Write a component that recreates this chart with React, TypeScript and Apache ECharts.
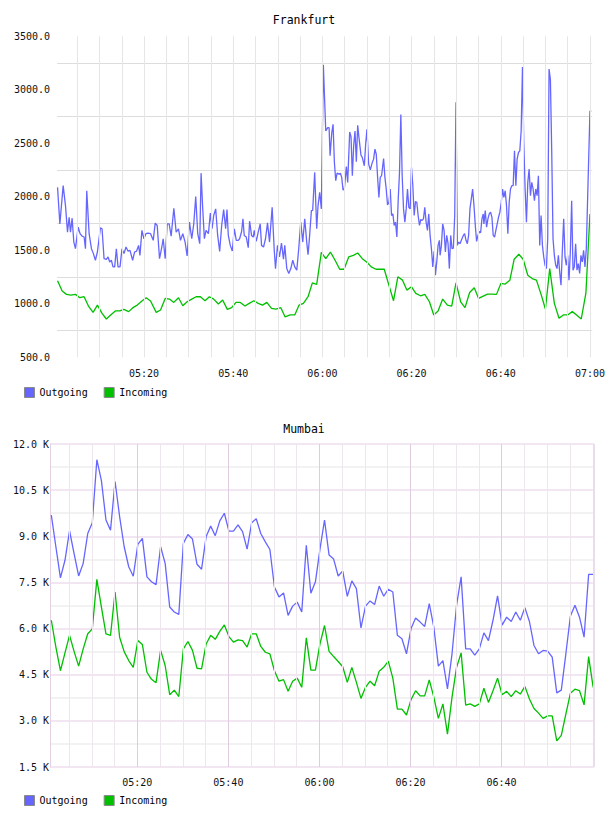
import React, { useEffect, useRef } from "react";
import * as echarts from "echarts";

// x values are minutes after 05:00
const frankfurtOutgoing: [number, number][] = [
  [0.6, 2088], [1.12, 1747], [1.86, 2104], [2.38, 1918], [2.83, 1670], [3.2, 1809], [3.5, 1670], [3.87, 1800],
  [4.25, 1577], [4.62, 1515], [5.22, 1716], [5.66, 1655], [6.11, 1633], [6.56, 1624], [6.86, 1515], [7.15, 2057],
  [7.68, 1655], [8.2, 1515], [8.64, 1469], [9.09, 1407], [9.54, 1484], [10.21, 1710], [10.58, 1701], [11.03, 1422],
  [11.55, 1416], [11.92, 1438], [12.3, 1391], [12.67, 1407], [13.04, 1345], [13.41, 1345], [13.79, 1515], [14.16, 1345],
  [14.61, 1345], [15.05, 1515], [15.5, 1469], [15.95, 1531], [16.39, 1493], [16.84, 1500], [17.44, 1407], [17.88, 1484],
  [18.33, 1493], [18.78, 1546], [19.08, 1453], [19.52, 1686], [19.97, 1608], [20.42, 1655], [20.86, 1661], [21.46, 1655],
  [22.06, 1593], [22.5, 1754], [22.95, 1732], [23.47, 1422], [23.99, 1531], [24.29, 1608], [24.74, 1422], [25.19, 1747],
  [25.63, 1747], [26.08, 1633], [26.68, 1893], [27.2, 1670], [27.72, 1701], [28.17, 1593], [28.69, 1655], [29.21, 1577],
  [29.66, 1447], [30.18, 1763], [30.7, 1608], [31.15, 1747], [31.59, 2002], [32.04, 1655], [32.49, 1562], [32.79, 2221],
  [33.16, 1887], [33.53, 1608], [33.9, 1686], [34.43, 1655], [34.87, 1847], [35.25, 1701], [35.62, 1825], [36.07, 1887],
  [36.51, 1639], [36.96, 1490], [37.41, 1732], [37.85, 1881], [38.3, 1701], [38.6, 1881], [38.9, 1639], [39.34, 1546],
  [39.79, 1493], [40.24, 1701], [40.69, 1593], [41.13, 1593], [41.43, 1608], [41.88, 1676], [42.18, 1794], [42.47, 1639],
  [42.92, 1624], [43.37, 1524], [43.67, 1772], [44.11, 1639], [44.49, 1624], [44.71, 1686], [45.16, 1583], [45.6, 1670],
  [46.05, 1747], [46.35, 1546], [46.8, 1531], [47.24, 1608], [47.69, 1757], [48.14, 1577], [48.73, 1902], [49.18, 1515],
  [49.48, 1329], [49.93, 1546], [50.37, 1438], [50.82, 1568], [51.27, 1416], [51.56, 1546], [52.01, 1329], [52.46, 1283],
  [52.91, 1329], [53.35, 1407], [53.8, 1345], [54.25, 1314], [54.69, 1515], [55.14, 1763], [55.59, 1577], [56.04, 1794],
  [56.48, 1577], [56.78, 1459], [57.08, 1608], [57.53, 1871], [57.82, 1874], [58.27, 2228], [58.72, 1701], [59.02, 1918],
  [59.39, 2042], [59.76, 1887], [60.21, 3235], [60.75, 2615], [61.2, 2646], [61.5, 2646], [61.72, 2383], [62.1, 2600],
  [62.39, 2677], [62.69, 2321], [62.99, 2150], [63.29, 2221], [63.73, 2212], [64.03, 2221], [64.33, 2181], [64.63, 2063],
  [64.93, 2079], [65.37, 2283], [65.67, 2135], [66.12, 2606], [66.42, 2562], [66.71, 2197], [67.01, 2476], [67.31, 2615],
  [67.61, 2327], [67.91, 2668], [68.2, 2553], [68.65, 2389], [68.95, 2367], [69.4, 2290], [69.7, 2491], [69.99, 2630],
  [70.37, 2305], [70.74, 2252], [71.19, 2321], [71.48, 2352], [71.78, 2445], [72.08, 2398], [72.38, 2181], [72.67, 1995],
  [72.97, 2181], [73.27, 2197], [73.72, 2358], [74.02, 2181], [74.31, 2073], [74.61, 1924], [74.91, 1949], [75.21, 2073],
  [75.51, 1825], [75.8, 1840], [76.1, 1732], [76.4, 1763], [76.7, 1624], [76.99, 1964], [77.29, 2228], [77.59, 2770],
  [77.89, 2197], [78.19, 1887], [78.49, 1763], [78.79, 1887], [79.08, 2073], [79.38, 1902], [79.68, 1887], [79.98, 2274],
  [80.28, 2104], [80.58, 1825], [80.87, 1955], [81.17, 1949], [81.47, 1825], [81.77, 1732], [82.07, 1788], [82.36, 1779],
  [82.66, 1794], [82.96, 1902], [83.26, 1763], [83.56, 1686], [83.85, 1840], [84.15, 1639], [84.45, 1515], [84.75, 1345],
  [85.05, 1490], [85.34, 1267], [85.64, 1391], [85.94, 1546], [86.24, 1593], [86.39, 1453], [86.69, 1546], [86.98, 1747],
  [87.28, 1686], [87.58, 1484], [87.88, 1639], [88.18, 1562], [88.47, 1329], [88.77, 1639], [89.07, 1515], [89.37, 1521],
  [89.67, 1825], [89.96, 2884], [90.26, 1546], [90.56, 1577], [90.86, 1562], [91.16, 1593], [91.6, 1639], [91.9, 1655],
  [92.2, 1593], [92.5, 1562], [92.79, 1639], [93.09, 1887], [93.39, 1980], [93.69, 2073], [93.99, 1918], [94.29, 1732],
  [94.58, 1583], [94.88, 1639], [95.18, 1676], [95.48, 1664], [95.78, 1794], [96.07, 1840], [96.22, 1747], [96.52, 1871],
  [96.82, 1717], [97.12, 1794], [97.41, 1840], [97.71, 1856], [98.01, 1810], [98.31, 1639], [98.61, 1624], [98.9, 1686],
  [99.2, 1747], [99.5, 1810], [99.8, 1856], [100.1, 1943], [100.4, 2073], [100.69, 1995], [100.99, 2057], [101.29, 1918],
  [101.59, 1655], [101.89, 1949], [102.18, 2073], [102.48, 2104], [102.78, 2104], [103.08, 2429], [103.38, 2104], [103.67, 2352],
  [103.97, 2414], [104.27, 2429], [104.57, 2615], [104.87, 3213], [105.16, 2507], [105.46, 2073], [105.76, 1763], [106.06, 2135],
  [106.36, 2259], [106.66, 2011], [106.95, 2135], [107.25, 2073], [107.55, 1964], [107.85, 2073], [108.15, 2011], [108.44, 2197],
  [108.74, 1546], [109.04, 1825], [109.34, 1546], [109.64, 1438], [109.93, 1360], [110.23, 1329], [110.53, 1608], [110.83, 3194],
  [111.13, 3095], [111.42, 2445], [111.72, 1608], [112.02, 1453], [112.32, 1360], [112.62, 1329], [112.92, 1453], [113.21, 1298],
  [113.51, 1174], [113.81, 1500], [114.11, 1794], [114.41, 1438], [114.7, 1360], [115.0, 1453], [115.3, 1221], [115.6, 1484],
  [115.9, 1964], [116.2, 1314], [116.49, 1345], [116.79, 1562], [117.09, 1314], [117.39, 1376], [117.69, 1283], [117.98, 1453],
  [118.28, 1391], [118.58, 1500], [118.88, 1345], [119.18, 1515], [120.0, 2801], [120.3, 2801],
];

const frankfurtIncoming: [number, number][] = [
  [0.6, 1215], [1.64, 1119], [2.61, 1088], [3.58, 1081], [4.62, 1088], [5.59, 1057], [6.56, 1066], [7.53, 979],
  [8.57, 920], [9.54, 988], [10.58, 911], [11.55, 858], [12.52, 896], [13.56, 933], [14.53, 933], [15.5, 948],
  [16.54, 927], [17.51, 964], [18.48, 988], [19.52, 1026], [20.49, 1057], [21.46, 1026], [22.73, 920], [23.7, 942],
  [24.74, 1050], [25.71, 1044], [26.68, 1013], [27.72, 1057], [28.69, 982], [29.66, 1019], [30.7, 1044], [31.67, 1066],
  [32.64, 1066], [33.68, 1029], [34.65, 1066], [35.62, 1044], [36.66, 998], [37.63, 1035], [38.67, 948], [39.64, 964],
  [40.61, 1013], [41.58, 1013], [42.62, 979], [43.59, 1004], [44.63, 1029], [45.6, 1004], [46.57, 988], [47.54, 1013],
  [48.58, 958], [49.55, 951], [50.67, 964], [51.64, 877], [52.76, 896], [53.8, 896], [54.77, 988], [55.74, 1004],
  [56.78, 1066], [57.75, 1196], [58.72, 1181], [59.76, 1480], [60.75, 1422], [61.8, 1484], [62.84, 1407], [63.88, 1323],
  [64.85, 1323], [65.89, 1438], [66.94, 1453], [67.91, 1475], [68.95, 1422], [69.92, 1391], [70.96, 1345], [72.0, 1323],
  [72.97, 1323], [73.87, 1323], [74.91, 1174], [75.95, 1029], [76.92, 1252], [77.97, 1221], [78.93, 1128], [79.98, 1159],
  [80.95, 1097], [81.99, 1075], [82.96, 1088], [84.0, 1019], [84.97, 895], [85.94, 933], [86.98, 1044], [88.03, 988],
  [89.0, 979], [89.96, 1196], [91.01, 1019], [91.98, 964], [93.02, 1106], [94.06, 1150], [95.03, 1050], [96.07, 1072],
  [97.04, 1091], [98.01, 1091], [99.05, 1088], [100.02, 1190], [100.99, 1184], [102.04, 1221], [103.0, 1416], [104.05, 1463],
  [105.02, 1416], [106.06, 1267], [107.03, 1236], [108.0, 1221], [109.04, 1088], [110.01, 951], [110.98, 1329], [112.02, 1004],
  [113.06, 865], [114.03, 896], [115.0, 896], [116.04, 927], [117.01, 896], [118.05, 858], [119.1, 1103], [120.0, 1840],
];

// Mumbai: one sample per minute, first sample at 05:01:07
const mumbaiFirstMinute = 1.12;
const mumbaiOutgoingK = [
  9.69, 8.66, 7.65, 8.22, 9.18, 8.44, 7.71, 8.12, 9.09, 9.44,
  11.49, 10.81, 9.53, 9.2, 10.78, 9.64, 8.66, 8.01, 7.7, 8.74,
  8.93, 7.68, 7.52, 7.43, 8.66, 8.12, 6.7, 6.54, 6.46, 8.77,
  9.06, 8.91, 8.09, 7.93, 8.99, 9.33, 9.02, 9.5, 9.75, 9.17,
  9.17, 9.37, 9.15, 8.58, 9.44, 9.57, 9.09, 8.82, 8.57, 7.35,
  7.03, 7.16, 6.43, 6.73, 6.86, 6.54, 8.71, 7.15, 7.52, 8.58,
  9.53, 8.39, 8.26, 7.71, 7.87, 7.05, 7.55, 7.3, 6.02, 6.73,
  6.9, 6.78, 7.38, 7.05, 7.28, 7.19, 5.78, 5.67, 5.18, 6.0,
  6.34, 6.21, 6.07, 6.81, 6.05, 4.78, 4.96, 4.04, 5.18, 6.76,
  7.68, 5.34, 5.34, 5.14, 5.34, 5.86, 5.61, 6.27, 7.06, 6.11,
  6.37, 6.23, 6.54, 6.27, 6.68, 6.23, 5.45, 5.18, 5.29, 5.27,
  5.07, 3.91, 4.0, 5.18, 6.41, 6.76, 6.37, 5.72, 7.76, 7.76,
];
const mumbaiIncomingK = [
  6.27, 5.4, 4.63, 5.21, 5.78, 5.26, 4.78, 5.34, 5.83, 5.99,
  7.6, 6.7, 5.83, 5.78, 7.19, 5.72, 5.25, 4.96, 4.74, 5.61,
  5.48, 4.58, 4.35, 4.24, 5.29, 4.8, 3.85, 4.0, 3.79, 5.34,
  5.58, 5.29, 4.71, 4.69, 5.5, 5.78, 5.65, 5.91, 6.12, 5.74,
  5.56, 5.63, 5.61, 5.4, 5.83, 5.83, 5.42, 5.23, 5.18, 4.63,
  4.29, 4.34, 3.96, 4.29, 4.39, 4.09, 5.7, 4.65, 4.65, 5.5,
  6.1, 5.26, 5.09, 4.93, 4.76, 4.25, 4.74, 4.25, 3.73, 4.09,
  4.29, 4.14, 4.61, 4.74, 4.94, 4.39, 3.38, 3.38, 3.19, 3.69,
  3.98, 3.81, 3.81, 4.33, 3.77, 3.08, 3.55, 2.57, 3.77, 4.74,
  5.21, 3.51, 3.55, 3.47, 3.55, 4.06, 3.6, 3.98, 4.39, 3.85,
  3.96, 3.79, 3.98, 3.87, 4.12, 3.71, 3.4, 3.25, 3.08, 3.16,
  3.16, 2.35, 2.53, 3.22, 3.9, 4.03, 3.98, 3.52, 5.09, 4.09,
];

const frankfurtTimeLabels = [20, 40, 60, 80, 100, 120];
const mumbaiTimeLabels = [20, 40, 60, 80, 100];
const seriesNames = ["Outgoing", "Incoming"];

const BLUE = "#6666ff";
const GREEN = "#00c000";
const MONO = "DejaVu Sans Mono";

const pad = (n: number) => (n < 10 ? "0" + n : "" + n);
const fmtTime = (v: number) => {
  const m = Math.round(v);
  return pad(5 + Math.floor(m / 60)) + ":" + pad(m % 60);
};

export default function App() {
  const ref = useRef<HTMLDivElement>(null);
  useEffect(() => {
    if (!ref.current) return;
    const chart = echarts.init(ref.current, null, { renderer: "svg" });

    const fVLines: any[] = [];
    for (let m = 5; m <= 120; m += 5) {
      fVLines.push({ xAxis: m, lineStyle: { color: "#e6e6e6", width: 1, type: "solid" } });
    }
    const mVLines: any[] = [];
    for (let m = 5; m <= 115; m += 5) {
      mVLines.push({
        xAxis: m,
        lineStyle: { color: m % 20 === 0 ? "#e0cce0" : "#ede6ed", width: 1, type: "solid" },
      });
    }
    mVLines.push({ xAxis: 120.3, lineStyle: { color: "#eadcea", width: 2, type: "solid" } });

    const mumbaiOut = mumbaiOutgoingK.map((v, i) => [mumbaiFirstMinute + i, v]);
    const mumbaiIn = mumbaiIncomingK.map((v, i) => [mumbaiFirstMinute + i, v]);

    const fLabels = Array.from({ length: 13 }, (_, i) => (i % 2 === 0 ? "transparent" : "#dddddd"));
    const mLabels = Array.from({ length: 15 }, (_, i) => (i % 2 === 0 ? "#f1e6f2" : "#f2f2f2"));

    const lineSeries = (name: string, data: any, color: string, idx: number) => ({
      type: "line",
      name,
      data,
      xAxisIndex: idx,
      yAxisIndex: idx,
      showSymbol: false,
      symbol: "none",
      lineStyle: { color, width: 1.3 },
      itemStyle: { color },
      z: 3,
    });

    const gridSeries = (lines: any[], idx: number) => ({
      type: "line",
      data: [],
      xAxisIndex: idx,
      yAxisIndex: idx,
      silent: true,
      z: 1,
      markLine: {
        silent: true,
        symbol: ["none", "none"],
        label: { show: false },
        data: lines,
      },
    });

    const legendBase = {
      data: seriesNames,
      left: 24,
      icon: "rect",
      itemWidth: 10,
      itemHeight: 10,
      itemGap: 16,
      padding: 0,
      selectedMode: false,
      textStyle: { fontFamily: MONO, fontSize: 10, color: "#000" },
      itemStyle: { borderColor: "#8a8a8a", borderWidth: 1 },
    };

    chart.setOption({
      animation: false,
      title: [
        {
          text: "Frankfurt",
          left: "center",
          top: 14,
          padding: 0,
          textStyle: { fontFamily: MONO, fontSize: 11.5, fontWeight: "normal", color: "#000" },
        },
        {
          text: "Mumbai",
          left: "center",
          top: 423,
          padding: 0,
          textStyle: { fontFamily: MONO, fontSize: 11.5, fontWeight: "normal", color: "#000" },
        },
      ],
      legend: [
        { ...legendBase, top: 387 },
        { ...legendBase, top: 795 },
      ],
      grid: [
        { left: 57.1, top: 36.3, width: 536.8, height: 321 },
        { left: 50, top: 444, width: 544, height: 323 },
      ],
      xAxis: [
        {
          type: "value",
          gridIndex: 0,
          min: 0.5,
          max: 120.5,
          axisLine: { show: false },
          axisTick: { show: false },
          splitLine: { show: false },
          axisLabel: {
            customValues: frankfurtTimeLabels,
            formatter: (v: number) => fmtTime(v),
            fontFamily: MONO,
            fontSize: 10,
            color: "#111",
            margin: 11,
          },
        },
        {
          type: "value",
          gridIndex: 1,
          min: 0.83,
          max: 120.3,
          axisLine: { show: false },
          axisTick: { show: false },
          splitLine: { show: false },
          axisLabel: {
            customValues: mumbaiTimeLabels,
            formatter: (v: number) => fmtTime(v),
            fontFamily: MONO,
            fontSize: 10,
            color: "#111",
            margin: 10,
          },
        },
      ],
      yAxis: [
        {
          type: "value",
          gridIndex: 0,
          min: 500,
          max: 3500,
          interval: 250,
          axisLine: { show: false },
          axisTick: { show: false },
          splitLine: { show: true, lineStyle: { color: fLabels, width: 1 } },
          axisLabel: {
            formatter: (v: number) => (v % 500 === 0 ? v.toFixed(1) : ""),
            fontFamily: MONO,
            fontSize: 10,
            color: "#111",
            margin: 7,
          },
        },
        {
          type: "value",
          gridIndex: 1,
          min: 1.5,
          max: 12,
          interval: 0.75,
          axisLine: { show: true, lineStyle: { color: "#e4d0e4", width: 1 } },
          axisTick: { show: false },
          splitLine: { show: true, lineStyle: { color: mLabels, width: 2 } },
          axisLabel: {
            formatter: (v: number) =>
              Math.abs(v / 1.5 - Math.round(v / 1.5)) < 1e-6 ? v.toFixed(1) + " K" : "",
            fontFamily: MONO,
            fontSize: 10,
            color: "#111",
            margin: 1,
          },
        },
      ],
      series: [
        gridSeries(fVLines, 0),
        lineSeries("Outgoing", frankfurtOutgoing, BLUE, 0),
        lineSeries("Incoming", frankfurtIncoming, GREEN, 0),
        gridSeries(mVLines, 1),
        lineSeries("Outgoing", mumbaiOut, BLUE, 1),
        lineSeries("Incoming", mumbaiIn, GREEN, 1),
      ],
    });
    return () => chart.dispose();
  }, []);
  return (
    <div
      ref={ref}
      style={{ position: "absolute", left: 0, top: 0, width: 608, height: 816, background: "#fff" }}
    />
  );
}
